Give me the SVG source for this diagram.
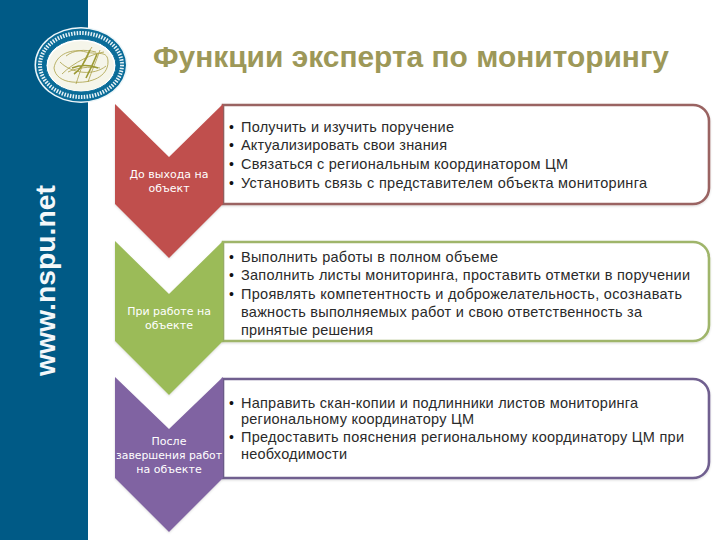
<svg xmlns="http://www.w3.org/2000/svg" width="720" height="540" viewBox="0 0 720 540">
<style>
.t{font-family:"Liberation Sans",Arial,sans-serif;font-size:14.5px;fill:#2a2a2a}
.b{font-family:"Liberation Sans",Arial,sans-serif;font-size:14px;fill:#111}
.c{font-family:"DejaVu Sans","Noto Sans",sans-serif;font-size:11px;fill:#fff;text-anchor:middle}
.box{fill:#fff;stroke-width:2.6}
.script{fill:none;stroke:#a99f45;stroke-width:.8}
</style>
<defs><filter id="s" x="-5%" y="-5%" width="110%" height="110%"><feDropShadow dx="0" dy="1" stdDeviation="1" flood-color="#000" flood-opacity=".15"/></filter></defs>
<rect width="720" height="540" fill="#fff"/>
<rect id="band" x="0" y="0" width="88" height="540" fill="#005a86"/>
<text transform="translate(55,376) rotate(-90)" font-family="'Liberation Sans',Arial,sans-serif" font-size="27" font-weight="700" fill="#f4f8fa" textLength="191" lengthAdjust="spacingAndGlyphs">www.nspu.net</text>
<g id="logo">
<ellipse cx="81" cy="65" rx="46.5" ry="38" fill="#eef6f9"/>
<ellipse cx="81" cy="65" rx="45" ry="36.5" fill="#0a6c98"/>
<ellipse cx="81" cy="65" rx="41" ry="32" fill="none" stroke="#e8f2f6" stroke-width="4" stroke-dasharray="1.5 1.3"/>
<ellipse cx="81" cy="65.500" rx="35" ry="26.500" fill="#fff" stroke="#0a6c98" stroke-width="1"/>
<ellipse cx="81" cy="66" rx="33" ry="25" fill="#f5f5ea"/>
<path class="script" d="M54 68C56 54 72 48 86 52C98 55 108 50 108 62C108 76 92 84 72 82C62 81 55 76 54 68ZM60 62C72 74 94 76 106 66M62 74C74 62 92 54 104 52M76 84C80 72 84 58 92 47M88 82C92 70 96 62 100 50M68 72C76 68 90 66 100 68M66 56C74 50 84 49 96 52"/>
<path fill="none" stroke="#9c9a35" stroke-width="1.6" d="M74 74C80 70 86 60 90 50M86 78C90 70 94 62 97 54M72 68C80 65 90 65 98 68"/>
</g>
<text id="title" x="153" y="67" font-family="'Liberation Sans',Arial,sans-serif" font-size="29" font-weight="700" fill="#9d9858" textLength="516" lengthAdjust="spacingAndGlyphs">Функции эксперта по мониторингу</text>
<g id="connectors"></g>
<g id="node1">
<path class="box" filter="url(#s)" stroke="#9a6462" d="M223 105H693A16 16 0 0 1 709 121V188A16 16 0 0 1 693 204H223Z"/>
<path filter="url(#s)" fill="#c0504d" d="M115 104L169 157L223 104V204L169 258L115 204Z"/>
<text class="c" x="169" y="178">До выхода на</text><text class="c" x="169" y="192">объект</text>
<text class="b" x="229" y="132">•</text><text class="t" x="241" y="132" textLength="213" lengthAdjust="spacing">Получить и изучить поручение</text>
<text class="b" x="229" y="150">•</text><text class="t" x="241" y="150" textLength="206" lengthAdjust="spacing">Актуализировать свои знания</text>
<text class="b" x="229" y="169">•</text><text class="t" x="241" y="169" textLength="327" lengthAdjust="spacing">Связаться с региональным координатором ЦМ</text>
<text class="b" x="229" y="188">•</text><text class="t" x="241" y="188" textLength="406" lengthAdjust="spacing">Установить связь с представителем объекта мониторинга</text>
</g>
<g id="node2">
<path class="box" filter="url(#s)" stroke="#9fb56b" d="M223 242H693A16 16 0 0 1 709 258V325A16 16 0 0 1 693 341H223Z"/>
<path filter="url(#s)" fill="#9bbb59" d="M115 241L169 294L223 241V341L169 395L115 341Z"/>
<text class="c" x="169" y="315">При работе на</text><text class="c" x="169" y="329">объекте</text>
<text class="b" x="229" y="262">•</text><text class="t" x="241" y="262" textLength="257" lengthAdjust="spacing">Выполнить работы в полном объеме</text>
<text class="b" x="229" y="280">•</text><text class="t" x="241" y="280" textLength="449" lengthAdjust="spacing">Заполнить листы мониторинга, проставить отметки в поручении</text>
<text class="b" x="229" y="299">•</text><text class="t" x="241" y="299" textLength="441" lengthAdjust="spacing">Проявлять компетентность и доброжелательность, осознавать</text>
<text class="t" x="241" y="317" textLength="401" lengthAdjust="spacing">важность выполняемых работ и свою ответственность за</text>
<text class="t" x="241" y="335" textLength="132" lengthAdjust="spacing">принятые решения</text>
</g>
<g id="node3">
<path class="box" filter="url(#s)" stroke="#6f5f8f" d="M223 379H693A16 16 0 0 1 709 395V462A16 16 0 0 1 693 478H223Z"/>
<path filter="url(#s)" fill="#8064a2" d="M115 377L169 429L223 377V478L169 532L115 478Z"/>
<text class="c" x="169" y="445">После</text><text class="c" x="169" y="459" textLength="106" lengthAdjust="spacingAndGlyphs">завершения работ</text><text class="c" x="169" y="473">на объекте</text>
<text class="b" x="229" y="408">•</text><text class="t" x="241" y="408" textLength="397" lengthAdjust="spacing">Направить скан-копии и подлинники листов мониторинга</text>
<text class="t" x="241" y="424" textLength="233" lengthAdjust="spacing">региональному координатору ЦМ</text>
<text class="b" x="229" y="442">•</text><text class="t" x="241" y="442" textLength="443" lengthAdjust="spacing">Предоставить пояснения региональному координатору ЦМ при</text>
<text class="t" x="241" y="459" textLength="106" lengthAdjust="spacing">необходимости</text>
</g>
</svg>
